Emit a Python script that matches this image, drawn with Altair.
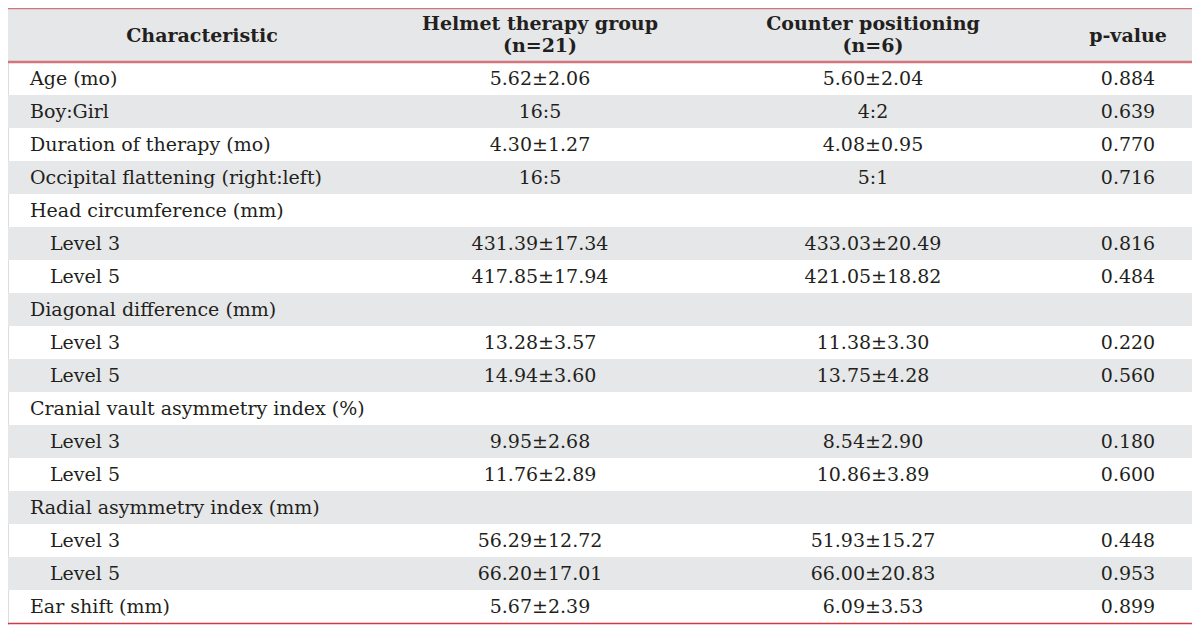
import altair as alt
import pandas as pd

# ---------------- data ----------------
characteristics = [
    "Age (mo)", "Boy:Girl", "Duration of therapy (mo)",
    "Occipital flattening (right:left)", "Head circumference (mm)",
    "Level 3", "Level 5", "Diagonal difference (mm)", "Level 3", "Level 5",
    "Cranial vault asymmetry index (%)", "Level 3", "Level 5",
    "Radial asymmetry index (mm)", "Level 3", "Level 5", "Ear shift (mm)",
]
is_sublevel = [0, 0, 0, 0, 0, 1, 1, 0, 1, 1, 0, 1, 1, 0, 1, 1, 0]
helmet = [
    "5.62±2.06", "16:5", "4.30±1.27", "16:5", "",
    "431.39±17.34", "417.85±17.94", "", "13.28±3.57", "14.94±3.60", "",
    "9.95±2.68", "11.76±2.89", "", "56.29±12.72", "66.20±17.01", "5.67±2.39",
]
counter = [
    "5.60±2.04", "4:2", "4.08±0.95", "5:1", "",
    "433.03±20.49", "421.05±18.82", "", "11.38±3.30", "13.75±4.28", "",
    "8.54±2.90", "10.86±3.89", "", "51.93±15.27", "66.00±20.83", "6.09±3.53",
]
p_values = [
    "0.884", "0.639", "0.770", "0.716", "",
    "0.816", "0.484", "", "0.220", "0.560", "",
    "0.180", "0.600", "", "0.448", "0.953", "0.899",
]
header_line1 = ["Characteristic", "Helmet therapy group", "Counter positioning", "p-value"]
header_line2 = ["", "(n=21)", "(n=6)", ""]

# ---------------- layout ----------------
W, H = 1184, 617
HEADER_H = 54
ROW_H = 33
N = len(characteristics)
COL_X = [194, 532, 865, 1120]
FONT = "DejaVu Serif"
FS = 19
TXT = "#231f20"
GRAY = "#e6e7e8"

rows = pd.DataFrame({
    "row": list(range(N)),
    "label": characteristics,
    "sub": is_sublevel,
})
rows["row1"] = rows["row"] + 1
rows["mid"] = rows["row"] + 0.5
rows["shade"] = rows["row"] % 2

cells = []
for i in range(N):
    for ci, vals in ((1, helmet), (2, counter), (3, p_values)):
        cells.append({"row": i, "mid": i + 0.5, "col": ci, "text": vals[i]})
cells = pd.DataFrame(cells)

hdr = pd.DataFrame({"col": list(range(4)), "l1": header_line1, "l2": header_line2})

yscale = alt.Scale(domain=[0, N], range=[HEADER_H, HEADER_H + N * ROW_H])
xscale = alt.Scale(domain=[0, 1, 2, 3], range=COL_X)
one = pd.DataFrame({"k": [0]})

header_bg = alt.Chart(one).mark_rect(color=GRAY).encode(
    x=alt.value(0), x2=alt.value(W), y=alt.value(0), y2=alt.value(HEADER_H)
)
row_bg = alt.Chart(rows).transform_filter("datum.shade == 1").mark_rect(color=GRAY).encode(
    x=alt.value(0), x2=alt.value(W),
    y=alt.Y("row:Q", scale=yscale, axis=None), y2="row1:Q",
)
top_line = alt.Chart(one).mark_rule(color="#d4747c", strokeWidth=1.2).encode(
    x=alt.value(0), x2=alt.value(W), y=alt.value(0.6)
)
hdr_line = alt.Chart(one).mark_rule(color="#d4747c", strokeWidth=2.5).encode(
    x=alt.value(0), x2=alt.value(W), y=alt.value(HEADER_H)
)
bottom_line = alt.Chart(one).mark_rule(color="#cf3b45", strokeWidth=1.3).encode(
    x=alt.value(0), x2=alt.value(W), y=alt.value(HEADER_H + N * ROW_H + 0.5)
)

char_main = alt.Chart(rows).transform_filter("datum.sub == 0").mark_text(
    align="left", baseline="middle", font=FONT, fontSize=FS, color=TXT
).encode(x=alt.value(22), y=alt.Y("mid:Q", scale=yscale, axis=None), text="label:N")
char_sub = alt.Chart(rows).transform_filter("datum.sub == 1").mark_text(
    align="left", baseline="middle", font=FONT, fontSize=FS, color=TXT
).encode(x=alt.value(42), y=alt.Y("mid:Q", scale=yscale, axis=None), text="label:N")
vals = alt.Chart(cells).mark_text(
    align="center", baseline="middle", font=FONT, fontSize=FS, color=TXT
).encode(
    x=alt.X("col:Q", scale=xscale, axis=None),
    y=alt.Y("mid:Q", scale=yscale, axis=None),
    text="text:N",
)

hkw = dict(align="center", baseline="middle", font=FONT, fontSize=FS, fontWeight="bold", color=TXT)
hdr_single = alt.Chart(hdr).transform_filter("datum.l2 == ''").mark_text(**hkw).encode(
    x=alt.X("col:Q", scale=xscale, axis=None), y=alt.value(28), text="l1:N"
)
hdr_top = alt.Chart(hdr).transform_filter("datum.l2 != ''").mark_text(**hkw).encode(
    x=alt.X("col:Q", scale=xscale, axis=None), y=alt.value(16), text="l1:N"
)
hdr_bot = alt.Chart(hdr).transform_filter("datum.l2 != ''").mark_text(**hkw).encode(
    x=alt.X("col:Q", scale=xscale, axis=None), y=alt.value(38), text="l2:N"
)

chart = alt.layer(
    header_bg, row_bg, top_line, hdr_line, bottom_line,
    char_main, char_sub, vals, hdr_single, hdr_top, hdr_bot,
).properties(
    width=W, height=H, autosize=alt.AutoSizeParams(type="none"), padding=0
).configure_view(stroke=None).configure(background="white")

chart.save("out.html", embed_options={"renderer": "svg", "actions": False})
